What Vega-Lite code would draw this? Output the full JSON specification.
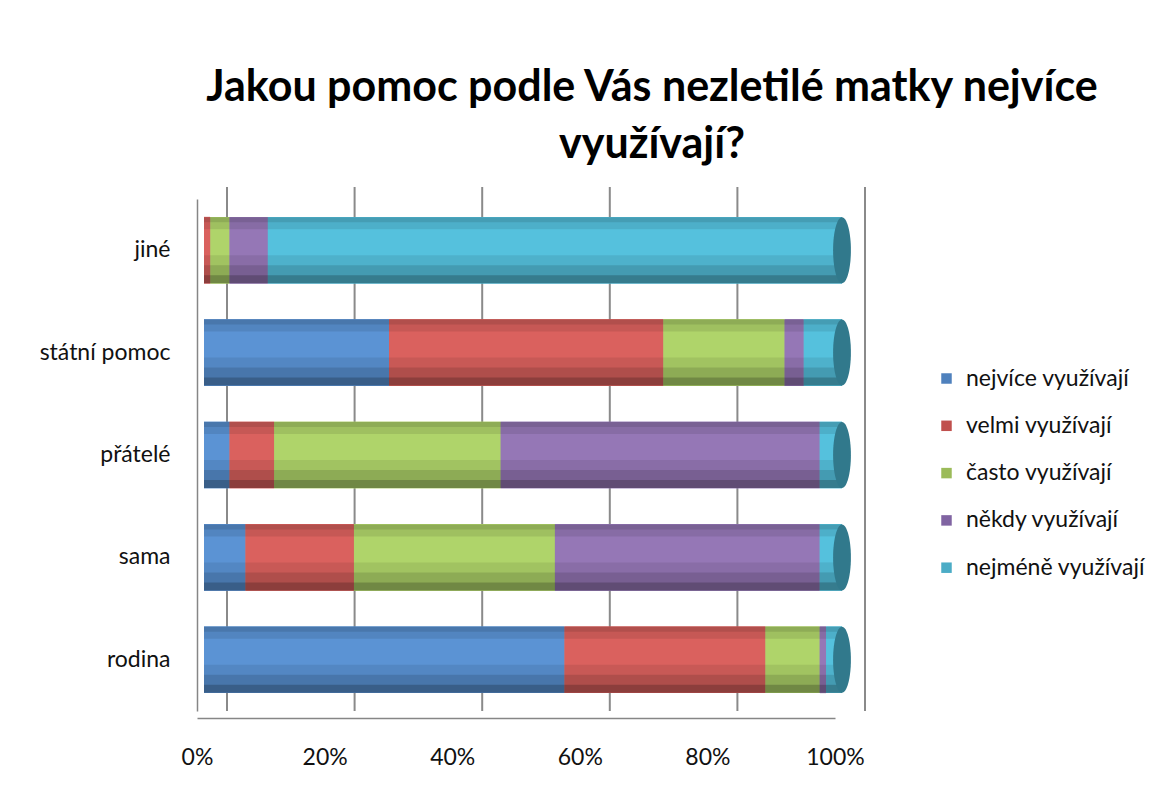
{
  "$schema": "https://vega.github.io/schema/vega-lite/v6.json",
  "autosize": {"type": "none"},
  "width": 638,
  "height": 512,
  "padding": {"left": 197, "top": 199, "right": 325, "bottom": 77},
  "background": "white",
  "config": {"view": {"stroke": null}, "font": "Lato"},
  "title": {
    "text": ["Jakou pomoc podle Vás nezletilé matky nejvíce", "využívají?"],
    "font": "Lato", "fontSize": 43, "fontWeight": "bold", "color": "#000000",
    "anchor": "middle", "dx": 136, "offset": 19, "lineHeight": 57
  },
  "data": {"values": [
    {"cat": "jiné", "series": "nejvíce využívají", "k": 1, "v": 0},
    {"cat": "jiné", "series": "velmi využívají", "k": 2, "v": 1},
    {"cat": "jiné", "series": "často využívají", "k": 3, "v": 3},
    {"cat": "jiné", "series": "někdy využívají", "k": 4, "v": 6},
    {"cat": "jiné", "series": "nejméně využívají", "k": 5, "v": 90},
    {"cat": "státní pomoc", "series": "nejvíce využívají", "k": 1, "v": 29},
    {"cat": "státní pomoc", "series": "velmi využívají", "k": 2, "v": 43},
    {"cat": "státní pomoc", "series": "často využívají", "k": 3, "v": 19},
    {"cat": "státní pomoc", "series": "někdy využívají", "k": 4, "v": 3},
    {"cat": "státní pomoc", "series": "nejméně využívají", "k": 5, "v": 6},
    {"cat": "přátelé", "series": "nejvíce využívají", "k": 1, "v": 4},
    {"cat": "přátelé", "series": "velmi využívají", "k": 2, "v": 7},
    {"cat": "přátelé", "series": "často využívají", "k": 3, "v": 35.5},
    {"cat": "přátelé", "series": "někdy využívají", "k": 4, "v": 50},
    {"cat": "přátelé", "series": "nejméně využívají", "k": 5, "v": 3.5},
    {"cat": "sama", "series": "nejvíce využívají", "k": 1, "v": 6.5},
    {"cat": "sama", "series": "velmi využívají", "k": 2, "v": 17},
    {"cat": "sama", "series": "často využívají", "k": 3, "v": 31.5},
    {"cat": "sama", "series": "někdy využívají", "k": 4, "v": 41.5},
    {"cat": "sama", "series": "nejméně využívají", "k": 5, "v": 3.5},
    {"cat": "rodina", "series": "nejvíce využívají", "k": 1, "v": 56.5},
    {"cat": "rodina", "series": "velmi využívají", "k": 2, "v": 31.5},
    {"cat": "rodina", "series": "často využívají", "k": 3, "v": 8.5},
    {"cat": "rodina", "series": "někdy využívají", "k": 4, "v": 1},
    {"cat": "rodina", "series": "nejméně využívají", "k": 5, "v": 2.5}
  ]},
  "encoding": {
    "y": {
      "field": "cat", "type": "nominal",
      "sort": ["jiné", "státní pomoc", "přátelé", "sama", "rodina"],
      "scale": {"paddingInner": 0.35, "paddingOuter": 0.175},
      "axis": {"title": null, "domain": true, "domainColor": "#868686", "domainWidth": 1.5, "ticks": false,
               "labelPadding": 27, "labelFontSize": 23, "labelFont": "Lato", "labelColor": "#111111", "grid": false}
    }
  },
  "layer": [
    {
      "data": {"values": [{"t": 0}, {"t": 0.2}, {"t": 0.4}, {"t": 0.6}, {"t": 0.8}, {"t": 1}]},
      "mark": {"type": "rule", "color": "#8a8a8a", "strokeWidth": 2, "xOffset": 30, "yOffset": -12},
      "encoding": {
        "x": {"field": "t", "type": "quantitative", "scale": {"domain": [0, 1]},
              "axis": {"title": null, "format": "%", "values": [0, 0.2, 0.4, 0.6, 0.8, 1], "grid": false, "ticks": false,
                       "domainColor": "#868686", "domainWidth": 1.5, "offset": 7, "labelPadding": 28, "labelFlush": false,
                       "labelFontSize": 23, "labelFont": "Lato", "labelColor": "#111111"}},
        "y": null
      }
    },
    {
      "mark": {"type": "bar", "xOffset": 7},
      "encoding": {
        "x": {"field": "v", "type": "quantitative", "stack": "normalize"},
        "order": {"field": "k", "type": "quantitative"},
        "color": {
          "field": "series", "type": "nominal",
          "scale": {
            "domain": ["nejvíce využívají", "velmi využívají", "často využívají", "někdy využívají", "nejméně využívají"],
            "range": ["#4F81BD", "#C0504D", "#9BBB59", "#8064A2", "#4BACC6"]
          },
          "legend": {"orient": "none", "legendX": 738, "legendY": 168, "title": null, "symbolType": "square",
                     "symbolSize": 110, "labelFontSize": 23, "labelFont": "Lato", "labelColor": "#111111",
                     "rowPadding": 23.3, "symbolStrokeWidth": 0, "labelLimit": 300, "symbolOpacity": 1, "labelOffset": 8}
        }
      }
    },
    {
      "mark": {"type": "bar", "xOffset": 7},
      "encoding": {
        "x": {"field": "v", "type": "quantitative", "stack": "normalize"},
        "order": {"field": "k", "type": "quantitative"},
        "fill": {
          "field": "series", "type": "nominal",
          "scale": {
            "domain": ["nejvíce využívají", "velmi využívají", "často využívají", "někdy využívají", "nejméně využívají"],
            "range": ["#5B93D4", "#DA615E", "#AFD46A", "#9577B6", "#55C1DD"]
          },
          "legend": null
        }
      }
    },
    {
      "mark": {"type": "bar", "xOffset": 7, "height": 12, "yOffset": -27, "color": "#000000", "opacity": 0.09},
      "encoding": {"x": {"field": "v", "type": "quantitative", "stack": "normalize"}, "order": {"field": "k", "type": "quantitative"}, "detail": {"field": "series"}}
    },
    {
      "mark": {"type": "bar", "xOffset": 7, "height": 5, "yOffset": -30.5, "color": "#000000", "opacity": 0.1},
      "encoding": {"x": {"field": "v", "type": "quantitative", "stack": "normalize"}, "order": {"field": "k", "type": "quantitative"}, "detail": {"field": "series"}}
    },
    {
      "mark": {"type": "bar", "xOffset": 7, "height": 28, "yOffset": 19, "color": "#000000", "opacity": 0.08},
      "encoding": {"x": {"field": "v", "type": "quantitative", "stack": "normalize"}, "order": {"field": "k", "type": "quantitative"}, "detail": {"field": "series"}}
    },
    {
      "mark": {"type": "bar", "xOffset": 7, "height": 18, "yOffset": 24, "color": "#000000", "opacity": 0.12},
      "encoding": {"x": {"field": "v", "type": "quantitative", "stack": "normalize"}, "order": {"field": "k", "type": "quantitative"}, "detail": {"field": "series"}}
    },
    {
      "mark": {"type": "bar", "xOffset": 7, "height": 8, "yOffset": 29, "color": "#000000", "opacity": 0.2},
      "encoding": {"x": {"field": "v", "type": "quantitative", "stack": "normalize"}, "order": {"field": "k", "type": "quantitative"}, "detail": {"field": "series"}}
    },
    {
      "transform": [{"filter": "datum.k == 5"}],
      "mark": {"type": "point", "filled": true, "xOffset": 7, "color": "#31798C", "opacity": 1, "size": 4356,
               "shape": "M0,-1 A0.27,1 0 1,1 0,1 A0.27,1 0 1,1 0,-1 Z", "strokeWidth": 0},
      "encoding": {
        "x": {"datum": 1, "type": "quantitative"}
      }
    }
  ]
}
